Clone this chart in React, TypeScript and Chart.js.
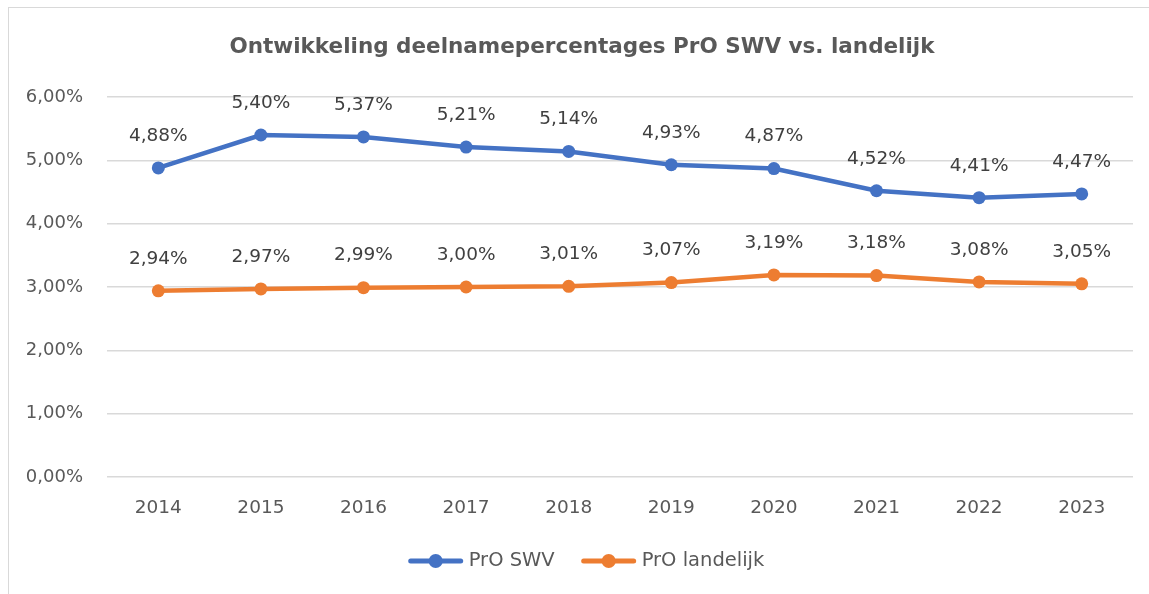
import React, { useEffect, useRef } from "react";
import { Chart, registerables } from "chart.js";

Chart.register(...registerables);

const years = ["2014", "2015", "2016", "2017", "2018", "2019", "2020", "2021", "2022", "2023"];
const proSwv = [4.88, 5.4, 5.37, 5.21, 5.14, 4.93, 4.87, 4.52, 4.41, 4.47];
const proLandelijk = [2.94, 2.97, 2.99, 3.0, 3.01, 3.07, 3.19, 3.18, 3.08, 3.05];
const yTicks = [0, 1, 2, 3, 4, 5, 6];
const titleText = "Ontwikkeling deelnamepercentages PrO SWV vs. landelijk";
const seriesNames = ["PrO SWV", "PrO landelijk"];
const seriesColors = ["#4472C4", "#ED7D31"];

const FONT = "'DejaVu Sans', sans-serif";
const fmt = (v: number) => v.toFixed(2).replace(".", ",") + "%";

const titlePlugin = {
  id: "customTitle",
  afterDraw(chart: any) {
    const ctx = chart.ctx;
    ctx.save();
    ctx.font = `bold 21.5px ${FONT}`;
    ctx.fillStyle = "#595959";
    ctx.textAlign = "center";
    ctx.textBaseline = "middle";
    ctx.fillText(titleText, 573, 39);
    ctx.restore();
  },
};

const dataLabelPlugin = {
  id: "dataLabels",
  afterDatasetsDraw(chart: any) {
    const ctx = chart.ctx;
    ctx.save();
    ctx.font = `18.5px ${FONT}`;
    ctx.fillStyle = "#404040";
    ctx.textAlign = "center";
    ctx.textBaseline = "middle";
    chart.data.datasets.forEach((ds: any, i: number) => {
      const meta = chart.getDatasetMeta(i);
      meta.data.forEach((pt: any, j: number) => {
        ctx.fillText(fmt(ds.data[j]), pt.x, pt.y - 32);
      });
    });
    ctx.restore();
  },
};

const legendPlugin = {
  id: "customLegend",
  afterDraw(chart: any) {
    const ctx = chart.ctx;
    ctx.save();
    ctx.font = `19.5px ${FONT}`;
    const lineLen = 54;
    const gap = 6;
    const itemGap = 27;
    const widths = seriesNames.map((n) => lineLen + gap + ctx.measureText(n).width);
    const total = widths.reduce((a, b) => a + b, 0) + itemGap * (seriesNames.length - 1);
    let x = 577.5 - total / 2;
    const y = 553;
    seriesNames.forEach((name, i) => {
      ctx.strokeStyle = seriesColors[i];
      ctx.lineWidth = 5;
      ctx.lineCap = "round";
      ctx.beginPath();
      ctx.moveTo(x + 2, y);
      ctx.lineTo(x + lineLen - 2, y);
      ctx.stroke();
      ctx.fillStyle = seriesColors[i];
      ctx.beginPath();
      ctx.arc(x + lineLen / 2, y, 7, 0, Math.PI * 2);
      ctx.fill();
      ctx.fillStyle = "#595959";
      ctx.textAlign = "left";
      ctx.textBaseline = "middle";
      ctx.fillText(name, x + lineLen + gap, y);
      x += widths[i] + itemGap;
    });
    ctx.restore();
  },
};

export default function App() {
  const ref = useRef<HTMLCanvasElement | null>(null);
  useEffect(() => {
    if (!ref.current) return;
    const chart = new Chart(ref.current, {
      type: "line",
      data: {
        labels: years,
        datasets: [
          {
            label: seriesNames[0],
            data: proSwv,
            borderColor: seriesColors[0],
            backgroundColor: seriesColors[0],
            borderWidth: 4.5,
            pointRadius: 6.5,
            pointBorderWidth: 0,
            pointBackgroundColor: seriesColors[0],
            tension: 0,
          },
          {
            label: seriesNames[1],
            data: proLandelijk,
            borderColor: seriesColors[1],
            backgroundColor: seriesColors[1],
            borderWidth: 4.5,
            pointRadius: 6.5,
            pointBorderWidth: 0,
            pointBackgroundColor: seriesColors[1],
            tension: 0,
          },
        ],
      },
      options: {
        animation: false,
        responsive: false,
        maintainAspectRatio: false,
        layout: { padding: { left: 0, right: 16, top: 89, bottom: 57 } },
        plugins: {
          legend: { display: false },
          tooltip: { enabled: false },
          title: { display: false },
        },
        scales: {
          x: {
            offset: true,
            grid: { display: false, drawTicks: false },
            border: { display: false },
            ticks: {
              color: "#595959",
              font: { family: FONT, size: 18.5 },
              padding: 20,
              maxRotation: 0,
            },
            afterFit: (s: any) => {
              s.height = 60;
            },
          },
          y: {
            min: 0,
            max: 6,
            afterBuildTicks: (s: any) => {
              s.ticks = yTicks.map((v) => ({ value: v }));
            },
            grid: { color: "#d9d9d9", lineWidth: 1.5, drawTicks: false },
            border: { display: false },
            ticks: {
              color: "#595959",
              font: { family: FONT, size: 18 },
              padding: 24,
              callback: (v: any) => fmt(Number(v)),
            },
            afterFit: (s: any) => {
              s.width = 98;
            },
          },
        },
      },
      plugins: [titlePlugin, dataLabelPlugin, legendPlugin],
    });
    return () => chart.destroy();
  }, []);

  return (
    <div
      style={{
        position: "absolute",
        top: 7,
        left: 8,
        width: 1141,
        height: 587,
        borderTop: "1px solid #d9d9d9",
        borderLeft: "1px solid #d9d9d9",
        boxSizing: "border-box",
        background: "#fff",
        overflow: "hidden",
      }}
    >
      <canvas ref={ref} width={1140} height={586} style={{ display: "block", width: 1140, height: 586 }} />
    </div>
  );
}
